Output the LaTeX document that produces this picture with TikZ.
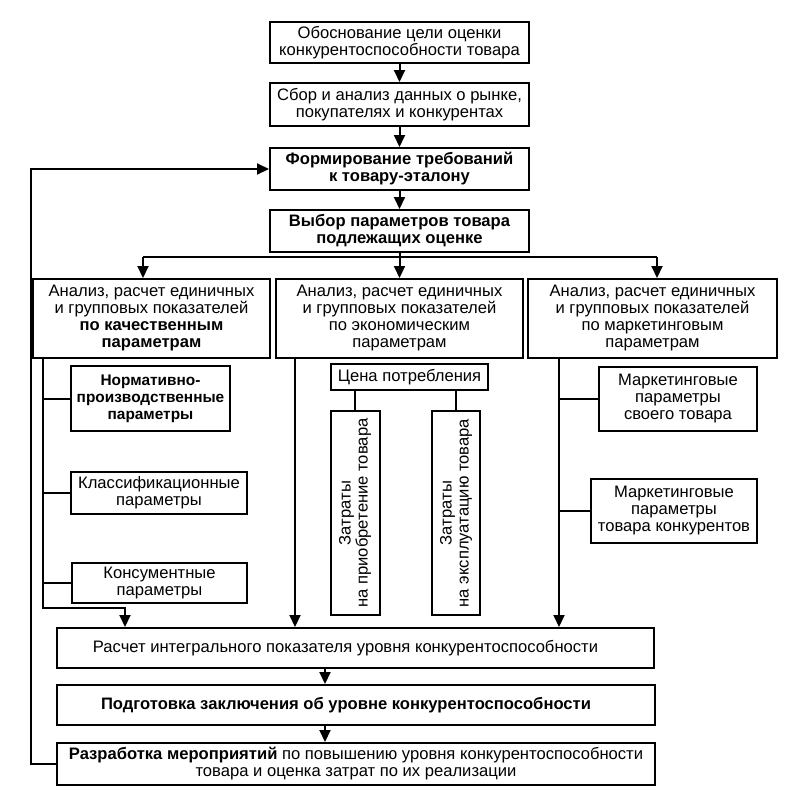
\documentclass[tikz,border=0pt]{standalone}
\usepackage{fontspec}
\setmainfont{Liberation Sans}
\usetikzlibrary{arrows.meta}
\tikzset{
  box/.style={draw, line width=2pt, inner sep=0pt, align=center, font=\fontsize{16.6}{17}\selectfont},
  conn/.style={line width=2pt},
  arr/.style={line width=2pt, -{Triangle[length=12pt,width=11pt]}},
}
\begin{document}
\begin{tikzpicture}[x=1pt,y=-1pt]
\useasboundingbox (0,0) rectangle (794,803);
% main column
\node[box, minimum width=259pt, minimum height=41pt] (b1) at (399.5,42.5) {Обоснование цели оценки\\конкурентоспособности товара};
\node[box, minimum width=259pt, minimum height=43pt] (b2) at (399.5,104.5) {Сбор и анализ данных о рынке,\\покупателях и конкурентах};
\node[box, minimum width=259pt, minimum height=42pt] (b3) at (399.5,169) {\bfseries Формирование требований\\\bfseries к товару-эталону};
\node[box, minimum width=259pt, minimum height=42pt] (b4) at (399.5,231) {\bfseries Выбор параметров товара\\\bfseries подлежащих оценке};
% three analysis boxes
\node[box, minimum width=237pt, minimum height=79pt] (bA) at (151.5,318.5) {Анализ, расчет единичных\\и групповых показателей\\\bfseries по качественным\\\bfseries параметрам};
\node[box, minimum width=247pt, minimum height=79pt] (bB) at (399.5,318.5) {Анализ, расчет единичных\\и групповых показателей\\по экономическим\\параметрам};
\node[box, minimum width=249pt, minimum height=79pt] (bC) at (652.5,318.5) {Анализ, расчет единичных\\и групповых показателей\\по маркетинговым\\параметрам};
% left sub-boxes
\node[box, minimum width=159pt, minimum height=65pt, font=\fontsize{15.4}{17}\selectfont\bfseries] (s1) at (150.5,398.5) {Нормативно-\\производственные\\параметры};
\node[box, minimum width=176pt, minimum height=42pt] (s2) at (159,493) {Классификационные\\параметры};
\node[box, minimum width=175pt, minimum height=40pt] (s3) at (159.5,583) {Консументные\\параметры};
% middle sub-boxes
\node[box, minimum width=157pt, minimum height=26pt] (cena) at (409.5,377) {Цена потребления};
\node[box, rotate=90, minimum width=204pt, minimum height=49pt] (v1) at (355,513) {Затраты\\на приобретение товара};
\node[box, rotate=90, minimum width=204pt, minimum height=48pt] (v2) at (456,513) {Затраты\\на эксплуатацию товара};
% right sub-boxes
\node[box, minimum width=158pt, minimum height=64pt] (m1) at (678,399) {Маркетинговые\\параметры\\своего товара};
\node[box, minimum width=166pt, minimum height=64pt] (m2) at (674,511) {Маркетинговые\\параметры\\товара конкурентов};
% bottom boxes
\node[box, minimum width=597pt, minimum height=40pt] (bR) at (355.5,648) {\hspace*{-20pt}Расчет интегрального показателя уровня конкурентоспособности};
\node[box, minimum width=598pt, minimum height=40pt] (bP) at (356,705) {\hspace*{-20pt}\bfseries Подготовка заключения об уровне конкурентоспособности};
\node[box, minimum width=598pt, minimum height=42pt] (bD) at (356,764) {\textbf{Разработка мероприятий} по повышению уровня конкурентоспособности\\товара и оценка затрат по их реализации};
% coordinates
\coordinate (jA) at (143,257);
\coordinate (jC) at (657,257);
\coordinate (lx) at (43,358);
\coordinate (lb) at (43,608);
\coordinate (la) at (125,608);
\coordinate (mx) at (295,358);
\coordinate (rx) at (559,358);
\coordinate (ax) at (325,0);
\coordinate (fb) at (31,0);
% main arrows
\draw[arr] (b1) -- (b2);
\draw[arr] (b2) -- (b3);
\draw[arr] (b3) -- (b4);
\draw[conn] (b4.south) -- (b4.south |- jA);
\draw[conn] (jA) -- (jC);
\draw[arr] (jA) -- (jA |- bA.north);
\draw[arr] (b4.south |- jA) -- (bB.north);
\draw[arr] (jC) -- (jC |- bC.north);
% left column
\draw[arr] (lx) -- (lb) -- (la) -- (la |- bR.north);
\draw[conn] (lx |- s1.west) -- (s1.west);
\draw[conn] (lx |- s2.west) -- (s2.west);
\draw[conn] (lx |- s3.west) -- (s3.west);
% middle column
\draw[arr] (mx) -- (mx |- bR.north);
\draw[conn] (v1.east |- cena.south) -- (v1.east);
\draw[conn] (v2.east |- cena.south) -- (v2.east);
% right column
\draw[arr] (rx) -- (rx |- bR.north);
\draw[conn] (rx |- m1.west) -- (m1.west);
\draw[conn] (rx |- m2.west) -- (m2.west);
% bottom chain
\draw[arr] (bR.south -| ax) -- (bP.north -| ax);
\draw[arr] (bP.south -| ax) -- (bD.north -| ax);
% feedback
\draw[arr] (bD.west) -- (bD.west -| fb) -- (b3.west -| fb) -- (b3.west);
\end{tikzpicture}
\end{document}
